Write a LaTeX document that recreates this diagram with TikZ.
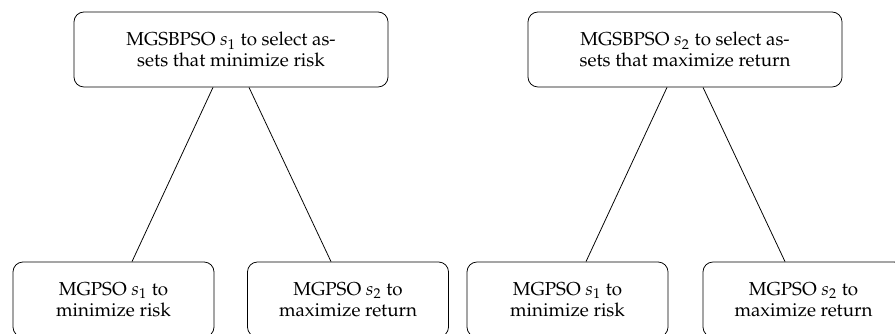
\documentclass[tikz,border=0pt]{standalone}
\usepackage[T1]{fontenc}
\usepackage{mathpazo}
\usetikzlibrary{calc}
\tikzset{
  box/.style={draw, rounded corners=5.8pt, align=center, inner sep=0pt, line width=0.45pt,
    font=\fontsize{10.9pt}{12pt}\selectfont},
  topbox/.style={box, minimum width=182.6pt, minimum height=43.6pt},
  leafbox/.style={box, minimum width=116.9pt, minimum height=43.6pt},
  edge/.style={line width=0.45pt},
}
\begin{document}
\begin{tikzpicture}[x=0.5814pt,y=-0.5814pt]
\useasboundingbox (0,0) rectangle (895,334);
\clip (0,0) rectangle (895,334);
\node[topbox] (r1) at (231,49.5) {MGSBPSO $s_1$ to select as-\\sets that minimize risk};
\node[topbox] (r2) at (685,49.5) {MGSBPSO $s_2$ to select as-\\sets that maximize return};
\node[leafbox] (a1) at (113.5,299.5) {MGPSO $s_1$ to\\minimize risk};
\node[leafbox] (a2) at (348,299.5) {MGPSO $s_2$ to\\maximize return};
\node[leafbox] (b1) at (567.5,299.5) {MGPSO $s_1$ to\\minimize risk};
\node[leafbox] (b2) at (803.5,299.5) {MGPSO $s_2$ to\\maximize return};
\draw[edge] ($(r1.south)+(-18,0)$) -- ($(a1.north)+(18.5,0)$);
\draw[edge] ($(r1.south)+(18,0)$) -- ($(a2.north)+(-17,0)$);
\draw[edge] ($(r2.south)+(-18,0)$) -- ($(b1.north)+(18.5,0)$);
\draw[edge] ($(r2.south)+(18,0)$) -- ($(b2.north)+(-18.5,0)$);
\end{tikzpicture}
\end{document}
